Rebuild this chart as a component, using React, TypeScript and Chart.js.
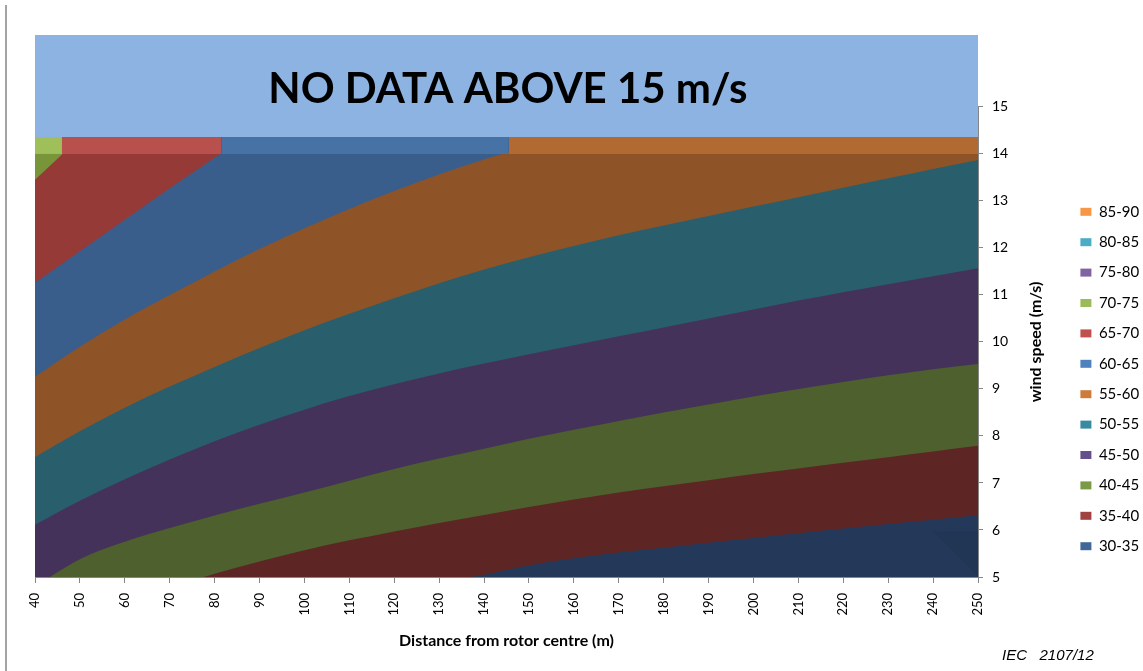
import React, { useEffect, useRef } from 'react';
import { Chart, registerables } from 'chart.js';

Chart.register(...registerables);

// ---- axes ----
const X_MIN = 40;
const X_MAX = 250;
const X_STEP = 10;
const Y_MIN = 5;
const Y_SHADE_TOP = 14;     // top of the darker (shaded) surface
const Y_DATA_TOP = 14.36;   // top of the computed surface
const Y_MAX = 16.53;        // top of the plot (incl. the "no data" panel)
const Y_LAST_TICK = 15;

const X_TITLE = 'Distance from rotor centre (m)';
const Y_TITLE = 'wind speed (m/s)';
const BANNER_TEXT = 'NO DATA ABOVE 15 m/s';
const BANNER_X = 145.3;
const BANNER_Y = 15.09;

// ---- contour boundaries: wind speed (m/s) at which each level is reached ----
// (values outside 5..14 only place the crossing of the visible edges; they are clipped)
const BASE_X = [40, 250];
const BASE_Y = [5, 5];

const L35_X = [40, 60, 80, 100, 120, 130, 140, 150, 160, 170, 180, 190, 200, 210, 220, 230, 240, 250];
const L35_Y = [3.2, 3.75, 4.2, 4.53, 4.78, 4.9, 5.05, 5.25, 5.4, 5.52, 5.62, 5.73, 5.83, 5.93, 6.03, 6.13, 6.22, 6.32];

const L40_X = [40, 50, 60, 70, 80, 90, 100, 110, 120, 130, 140, 150, 160, 170, 180, 190, 200, 210, 220, 230, 240, 250];
const L40_Y = [3.9, 4.2, 4.5, 4.78, 5.07, 5.33, 5.57, 5.78, 5.97, 6.15, 6.32, 6.49, 6.65, 6.8, 6.93, 7.06, 7.19, 7.31, 7.43, 7.55, 7.67, 7.79];

const L45_X = [40, 50, 60, 70, 80, 90, 100, 110, 120, 130, 140, 150, 160, 170, 180, 190, 200, 210, 220, 230, 240, 250];
const L45_Y = [4.8, 5.38, 5.75, 6.04, 6.31, 6.56, 6.8, 7.05, 7.3, 7.52, 7.73, 7.94, 8.13, 8.32, 8.5, 8.67, 8.84, 9.0, 9.15, 9.29, 9.42, 9.53];

const L50_X = [40, 50, 60, 70, 80, 90, 100, 110, 120, 130, 140, 150, 160, 170, 180, 190, 200, 210, 220, 230, 240, 250];
const L50_Y = [6.11, 6.62, 7.08, 7.5, 7.89, 8.24, 8.56, 8.85, 9.1, 9.33, 9.54, 9.74, 9.93, 10.12, 10.31, 10.5, 10.69, 10.88, 11.06, 11.23, 11.4, 11.57];

const L55_X = [40, 50, 60, 70, 80, 90, 100, 110, 120, 130, 140, 150, 160, 170, 180, 190, 200, 210, 220, 230, 240, 250];
const L55_Y = [7.55, 8.1, 8.6, 9.05, 9.47, 9.87, 10.25, 10.6, 10.93, 11.25, 11.54, 11.8, 12.04, 12.27, 12.48, 12.68, 12.88, 13.08, 13.28, 13.48, 13.68, 13.87];

const L60_X = [40, 50, 60, 70, 80, 90, 100, 110, 120, 130, 140, 150];
const L60_Y = [9.26, 9.9, 10.48, 11.0, 11.5, 11.98, 12.42, 12.83, 13.21, 13.56, 13.88, 14.18];

const L65_X = [40, 50, 60, 70, 80, 90];
const L65_Y = [11.26, 11.93, 12.6, 13.27, 13.92, 14.55];

const L70_X = [40, 50];
const L70_Y = [13.45, 14.35];

// faint darker corner at the far bottom right
const CORNER_X = [240, 250];
const CORNER_Y = [5.97, 5.0];

// light top strip (14 .. 14.36 m/s): band edges along distance
const TOP_EDGES = [40, 46, 81.5, 145.5, 250];
const TOP_COLORS = ['#9fbf5b', '#b8514d', '#4772a6', '#b06a32'];

// plot colours (shaded surface)
const C_BASE = '#24395a';
const C_35 = '#5e2525';
const C_40 = '#4e602d';
const C_45 = '#45325b';
const C_50 = '#295e6c';
const C_55 = '#8e5428';
const C_60 = '#3a5e8b';
const C_65 = '#953a37';
const C_70 = '#789639';
const C_CORNER = '#213555';
const C_PANEL = '#8db3e2';

// legend
const LEGEND_LABELS = ['85-90', '80-85', '75-80', '70-75', '65-70', '60-65', '55-60', '50-55', '45-50', '40-45', '35-40', '30-35'];
const LEGEND_COLORS = ['#f79646', '#4bacc6', '#8064a2', '#9bbb59', '#c0504d', '#4f81bd', '#cd7a3b', '#378a9f', '#64508a', '#7a9a47', '#a0423f', '#41679a'];

const FONT = 'Lato';
const PAD_RIGHT = 4;
const PLOT_RIGHT_PX = 978;
const X_AXIS_HEIGHT = 94;

const pts = (xs: number[], ys: number[]) => xs.map((x, i) => ({ x, y: ys[i] }));

const area = (label: string, xs: number[], ys: number[], color: string, fill: any, smooth = true) => ({
  label,
  data: pts(xs, ys),
  backgroundColor: color,
  borderColor: 'rgba(0,0,0,0)',
  borderWidth: 0,
  pointRadius: 0,
  pointHoverRadius: 0,
  fill,
  cubicInterpolationMode: smooth ? 'monotone' : 'default',
  tension: 0,
});

const overlayPlugin = {
  id: 'overlay',
  afterDatasetsDraw(chart: any) {
    const { ctx, chartArea, scales } = chart;
    const xs = scales.x;
    const ys = scales.y;
    ctx.save();
    // banner text
    ctx.font = `bold 42px ${FONT}`;
    ctx.fillStyle = '#000';
    ctx.textAlign = 'center';
    ctx.textBaseline = 'alphabetic';
    ctx.fillText(BANNER_TEXT, xs.getPixelForValue(BANNER_X), ys.getPixelForValue(BANNER_Y));
    // y axis line (5 .. 15)
    ctx.strokeStyle = '#868686';
    ctx.lineWidth = 1;
    const ax = Math.round(chartArea.right) + 0.5;
    ctx.beginPath();
    ctx.moveTo(ax, ys.getPixelForValue(Y_MIN));
    ctx.lineTo(ax, ys.getPixelForValue(Y_LAST_TICK));
    ctx.stroke();
    // y axis title, reading upwards
    ctx.translate(chartArea.right + 58, ys.getPixelForValue((Y_MIN + Y_LAST_TICK) / 2));
    ctx.rotate(-Math.PI / 2);
    ctx.font = `bold 16px ${FONT}`;
    ctx.textAlign = 'center';
    ctx.textBaseline = 'middle';
    ctx.fillText(Y_TITLE, 0, 0);
    ctx.restore();
  },
};

export default function App() {
  const ref = useRef<HTMLCanvasElement | null>(null);

  useEffect(() => {
    if (!ref.current) return;
    Chart.defaults.font.family = FONT;
    Chart.defaults.color = '#000';

    const topBand = TOP_COLORS.map((c, i) =>
      area('top' + i, [TOP_EDGES[i], TOP_EDGES[i + 1]], [Y_DATA_TOP, Y_DATA_TOP], c, { value: Y_SHADE_TOP }, false)
    );

    const datasets: any[] = [
      area('panel', [X_MIN, X_MAX], [Y_MAX, Y_MAX], C_PANEL, { value: Y_DATA_TOP }, false),
      ...topBand,
      area('corner', CORNER_X, CORNER_Y, C_CORNER, { value: CORNER_Y[0] }, false),
      area('70', L70_X, L70_Y, C_70, 'end'),
      area('65', L65_X, L65_Y, C_65, 'end'),
      area('60', L60_X, L60_Y, C_60, 'end'),
      area('55', L55_X, L55_Y, C_55, 'end'),
      area('50', L50_X, L50_Y, C_50, 'end'),
      area('45', L45_X, L45_Y, C_45, 'end'),
      area('40', L40_X, L40_Y, C_40, 'end'),
      area('35', L35_X, L35_Y, C_35, 'end'),
      area('30', BASE_X, BASE_Y, C_BASE, 'end', false),
    ];

    const chart = new Chart(ref.current, {
      type: 'line',
      data: { datasets },
      plugins: [overlayPlugin],
      options: {
        responsive: true,
        maintainAspectRatio: false,
        animation: false,
        events: [],
        layout: { padding: { left: 35, top: 35, right: PAD_RIGHT, bottom: 0 } },
        plugins: {
          tooltip: { enabled: false },
          legend: {
            position: 'right',
            align: 'center',
            maxWidth: 74,
            onClick: () => {},
            title: { display: true, text: ' ', font: { size: 10 }, padding: { top: 20, bottom: 20 } },
            labels: {
              boxWidth: 11,
              boxHeight: 8,
              padding: 15.4,
              textAlign: 'left',
              color: '#000',
              font: { family: FONT, size: 15 },
              generateLabels: () =>
                LEGEND_LABELS.map((text, i) => ({
                  text,
                  fillStyle: LEGEND_COLORS[i],
                  strokeStyle: LEGEND_COLORS[i],
                  lineWidth: 0,
                  hidden: false,
                  fontColor: '#000',
                  index: i,
                })),
            },
          },
        },
        scales: {
          x: {
            type: 'linear',
            position: 'bottom',
            min: X_MIN,
            max: X_MAX,
            ticks: {
              stepSize: X_STEP,
              autoSkip: false,
              minRotation: 90,
              maxRotation: 90,
              padding: 10,
              color: '#000',
              font: { family: FONT, size: 13 },
            },
            grid: { drawOnChartArea: false, drawTicks: true, tickLength: 6, color: '#868686' },
            border: { display: true, color: '#868686' },
            title: {
              display: true,
              text: X_TITLE,
              color: '#000',
              font: { family: FONT, size: 16, weight: 'bold' },
              padding: { top: 0, bottom: 21 },
            },
            afterFit: (s: any) => {
              s.height = X_AXIS_HEIGHT;
            },
          },
          y: {
            type: 'linear',
            position: 'right',
            min: Y_MIN,
            max: Y_MAX,
            ticks: {
              stepSize: 1,
              padding: 9,
              color: '#000',
              font: { family: FONT, size: 14 },
            },
            grid: { drawOnChartArea: false, drawTicks: true, tickLength: 5, color: '#868686' },
            border: { display: false },
            afterBuildTicks: (s: any) => {
              s.ticks = s.ticks.filter((t: any) => t.value <= Y_LAST_TICK && Number.isInteger(t.value));
            },
            afterFit: (s: any) => {
              const lw = s.chart.legend ? s.chart.legend.width : 74;
              s.width = s.chart.width - PAD_RIGHT - lw - PLOT_RIGHT_PX;
            },
          },
        },
      } as any,
    });
    return () => chart.destroy();
  }, []);

  return (
    <div style={{ position: 'fixed', left: 0, top: 0, width: 1143, height: 671, background: '#fff' }}>
      <div style={{ position: 'absolute', left: 5, top: 5, width: 2, height: 666, background: '#a3a3a3' }} />
      <canvas ref={ref} style={{ position: 'absolute', left: 0, top: 0 }} />
      <div
        style={{
          position: 'absolute',
          left: 1002,
          top: 647,
          fontFamily: '"Liberation Sans", Arial, sans-serif',
          fontStyle: 'italic',
          fontSize: 15,
          lineHeight: '15px',
          whiteSpace: 'pre',
          color: '#000',
        }}
      >
        {'IEC   2107/12'}
      </div>
    </div>
  );
}
